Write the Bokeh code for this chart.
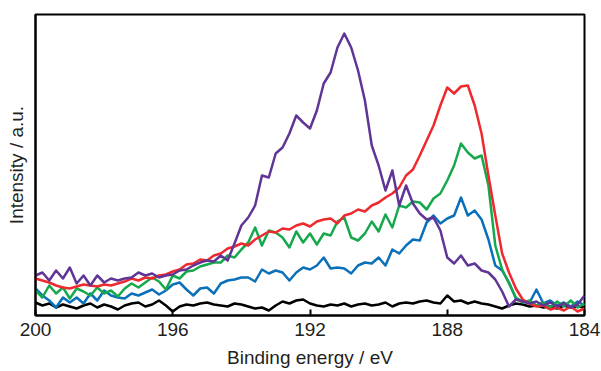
import numpy as np
from bokeh.plotting import figure
from bokeh.models import Range1d, FixedTicker
from bokeh.embed import file_html
from bokeh.resources import INLINE

# Binding energy grid (eV), 0.2 eV steps from 200 to 184
energy = [round(200 - 0.2 * i, 1) for i in range(81)]

red = [37, 35, 33, 30, 28, 27, 29, 31, 30, 29, 31, 30, 32, 34,
       37, 35, 38, 37, 40, 41, 44, 46, 51, 52, 56, 55, 60, 62, 67, 69,
       72, 70, 76, 80, 84, 83, 87, 86, 90, 92, 89, 94, 96,
       97, 92, 100, 102, 106, 104, 110, 113, 118, 122, 128, 140, 146, 160, 175, 190, 210,
       228, 222, 229, 230, 210, 182, 140, 100, 62, 43, 27, 16,
       12, 9, 10, 6, 8, 5, 9, 4, 7]

purple = [40, 43, 35, 45, 37, 48, 32, 40, 30, 40, 33, 37, 35, 37, 38, 43,
          40, 42, 38, 40, 41, 45, 46, 50, 53, 55, 54, 60, 55,
          72, 90, 98, 110, 140, 138, 162, 168, 182, 200, 193, 187, 205, 232, 243, 268,
          282, 268, 245, 215, 170, 150, 125, 145, 110, 130, 112, 102, 96, 98, 85,
          58, 52, 60, 50, 52, 45, 43, 36, 24, 9, 16, 14, 12, 14, 10, 13, 9, 12, 8, 11, 20]

green = [25, 18, 30, 22, 28, 17, 27, 24, 20, 28, 22, 25, 19, 27, 32, 28,
         33, 38, 34, 26, 40, 37, 44, 45, 49, 51, 53, 53, 60, 58, 66, 73,
         88, 70, 85, 83, 78, 68, 84, 73, 82, 71, 82, 80, 94, 98, 78, 75,
         82, 94, 84, 101, 88, 110, 108, 114, 113, 106, 117, 122, 135, 150, 172, 163,
         157, 160, 130, 70, 46, 32, 18, 13, 15, 10, 13, 8, 14, 9, 15, 8, 12]

blue = [27, 20, 15, 8, 18, 13, 18, 12, 22, 15, 25, 20, 18, 17, 22, 20,
        23, 26, 21, 25, 31, 33, 26, 20, 27, 28, 22, 32, 35, 36, 38, 38,
        34, 46, 42, 45, 43, 35, 43, 48, 46, 50, 58, 47, 48, 47, 42, 50,
        53, 52, 58, 50, 66, 62, 70, 76, 75, 93, 100, 92, 97, 100, 118, 100,
        105, 96, 76, 50, 45, 33, 17, 14, 13, 26, 12, 15, 10, 13, 9, 14, 10]

black = [13, 10, 12, 8, 11, 9, 7, 10, 12, 8, 11, 9, 6, 10, 12, 13, 9, 11, 15, 10,
         4, 9, 11, 10, 12, 13, 11, 10, 9, 12, 11, 9, 7, 8, 5, 10, 14, 12, 15, 16,
         12, 10, 9, 11, 10, 12, 9, 11, 12, 10, 11, 13, 9, 12, 13, 12, 14, 15, 13, 12,
         20, 14, 15, 12, 14, 12, 11, 9, 7, 10, 12, 11, 9, 10, 8, 9, 7, 10, 8, 9, 8]

x_ticks = [200, 196, 192, 188, 184]

TEXT = "#231F20"
FONT = "Liberation Sans"

p = figure(width=601, height=371, output_backend="svg", toolbar_location=None,
           x_range=Range1d(200, 184), y_range=Range1d(0, 301),
           min_border_left=35, min_border_right=17, min_border_top=14, min_border_bottom=56)

p.background_fill_color = "white"
p.border_fill_color = "white"
p.outline_line_color = "black"
p.outline_line_width = 2
p.xgrid.visible = False
p.ygrid.visible = False

series = [(black, "black"), (blue, "#0A70B9"), (green, "#16A84C"),
          (red, "#EE2A2E"), (purple, "#5F3596")]
for ys, col in series:
    p.line(energy, ys, line_color=col, line_width=2.5, line_join="round")

xa = p.xaxis[0]
xa.ticker = FixedTicker(ticks=x_ticks)
xa.minor_tick_line_color = None
xa.major_tick_in = 6
xa.major_tick_out = 0
xa.major_tick_line_width = 2
xa.major_tick_line_color = "black"
xa.axis_line_width = 2
xa.axis_line_color = "black"
xa.major_label_text_font = FONT
xa.major_label_text_font_size = "19px"
xa.major_label_text_color = TEXT
xa.major_label_standoff = 7
xa.axis_label = "Binding energy / eV"
xa.axis_label_text_font = FONT
xa.axis_label_text_font_size = "19px"
xa.axis_label_text_font_style = "normal"
xa.axis_label_text_color = TEXT
xa.axis_label_standoff = 8

ya = p.yaxis[0]
ya.ticker = FixedTicker(ticks=[])
ya.minor_tick_line_color = None
ya.major_tick_line_color = None
ya.major_label_text_font_size = "0px"
ya.major_label_standoff = 0
ya.axis_line_width = 2
ya.axis_line_color = "black"
ya.axis_label = "Intensity / a.u."
ya.axis_label_text_font = FONT
ya.axis_label_text_font_size = "19px"
ya.axis_label_text_font_style = "normal"
ya.axis_label_text_color = TEXT
ya.axis_label_standoff = 9

open("out.html", "w").write(file_html(p, INLINE))
